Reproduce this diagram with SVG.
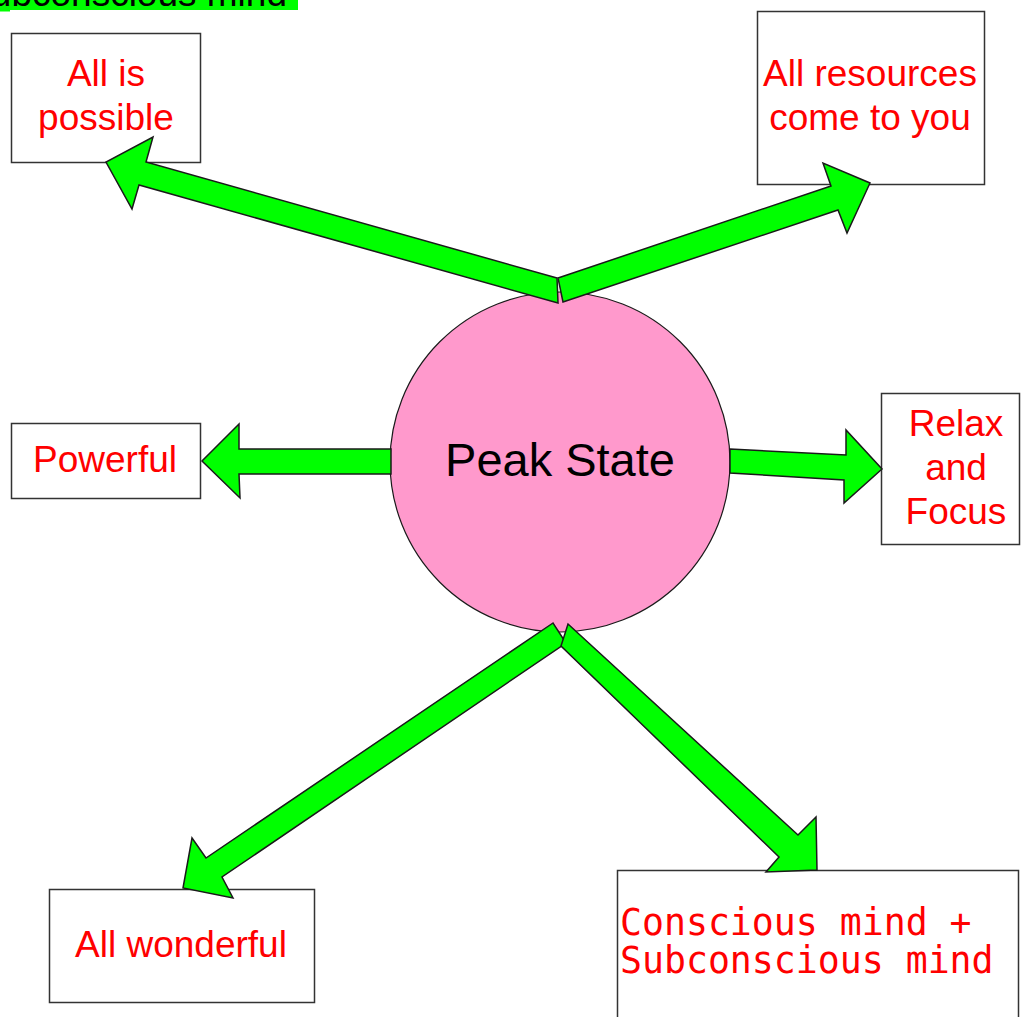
<svg xmlns="http://www.w3.org/2000/svg" width="1021" height="1017" viewBox="0 0 1021 1017">
  <style>
    .box { fill: #ffffff; stroke: #333333; stroke-width: 1.5; }
    .lbl { font-family: "Liberation Sans", Arial, sans-serif; font-size: 37px; fill: #ff0000; text-anchor: middle; }
    .mono { font-family: "DejaVu Sans Mono", "Liberation Mono", monospace; font-size: 36.5px; fill: #ff0000; }
    .arrow { fill: #00ff00; stroke: #1a1a1a; stroke-width: 1.5; stroke-linejoin: miter; }
    .hub { fill: #ff99cc; stroke: #1a1a1a; stroke-width: 1.2; }
    .hubtxt { font-family: "Liberation Sans", Arial, sans-serif; font-size: 47px; fill: #000000; text-anchor: middle; }
  </style>

  <!-- heading strip at the top edge -->
  <g id="heading">
    <rect x="0" y="-20" width="298" height="30" fill="#00ff00"/>
    <rect x="0" y="10" width="10" height="1.5" fill="#00ff00"/>
    <text x="287" y="6" font-family="Liberation Sans, Arial, sans-serif" font-size="37" fill="#000000" text-anchor="end">Subconscious mind</text>
  </g>

  <!-- central node -->
  <g id="peak-state">
    <circle class="hub" cx="560" cy="462" r="170"/>
    <text class="hubtxt" x="560" y="476">Peak State</text>
  </g>

  <!-- outer nodes -->
  <g id="all-is-possible">
    <rect class="box" x="11.5" y="33.5" width="189" height="129"/>
    <text class="lbl" x="106" y="86">All is</text>
    <text class="lbl" x="106" y="130">possible</text>
  </g>

  <g id="all-resources">
    <rect class="box" x="757.5" y="11.5" width="227" height="173"/>
    <text class="lbl" x="870" y="86">All resources</text>
    <text class="lbl" x="870" y="130">come to you</text>
  </g>

  <g id="powerful">
    <rect class="box" x="11.5" y="423.5" width="189" height="75"/>
    <text class="lbl" x="105" y="472">Powerful</text>
  </g>

  <g id="relax-focus">
    <rect class="box" x="881.5" y="393.5" width="138" height="151"/>
    <text class="lbl" x="956" y="436">Relax</text>
    <text class="lbl" x="956" y="480">and</text>
    <text class="lbl" x="956" y="524">Focus</text>
  </g>

  <g id="all-wonderful">
    <rect class="box" x="49.5" y="889.5" width="265" height="113"/>
    <text class="lbl" x="181" y="957">All wonderful</text>
  </g>

  <g id="conscious-subconscious">
    <rect class="box" x="617.5" y="870.5" width="401" height="160"/>
    <text class="mono" x="620" y="935">Conscious mind +</text>
    <text class="mono" x="620" y="973">Subconscious mind</text>
  </g>

  <!-- block arrows radiating from the hub -->
  <g id="connectors">
    <polygon class="arrow" points="557,278 146,162 153,137 106,162 132,209 139,185 558,303"/>
    <polygon class="arrow" points="558,278 831,186 823,163 870,183 847,233 838,210 563,302"/>
    <polygon class="arrow" points="391,449 239,449 239,424 202,461 240,498 239,474 391,474"/>
    <polygon class="arrow" points="730,449 846,455 846,430 882,469 844,503 844,480 730,473"/>
    <polygon class="arrow" points="553,623 206,858 192,838 183,888 233,898 222,877 566,643"/>
    <polygon class="arrow" points="568,624 798,835 816,817 817,870 766,872 779,857 561,646"/>
  </g>
</svg>
